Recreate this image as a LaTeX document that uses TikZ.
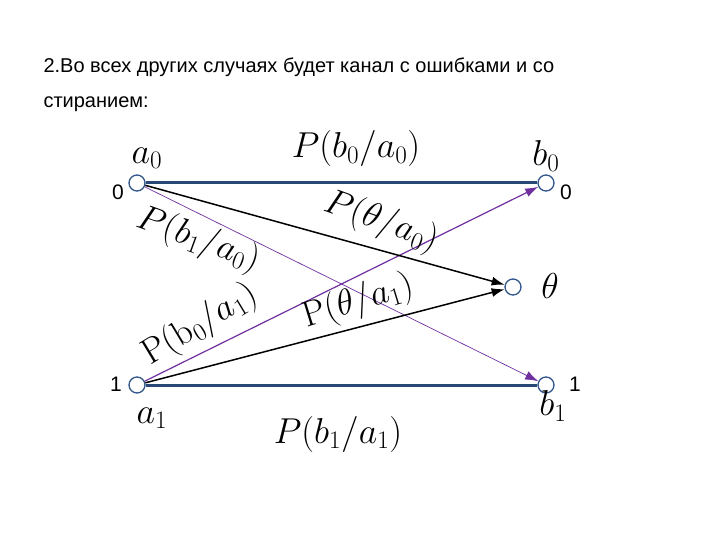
\RequirePackage{fix-cm}
\documentclass[tikz,border=0pt]{standalone}
\usepackage[no-math]{fontspec}
\setmainfont{Liberation Sans}
\usetikzlibrary{arrows.meta}
\definecolor{linkblue}{RGB}{40,72,120}
\definecolor{ringblue}{RGB}{50,85,140}
\definecolor{chanpurple}{RGB}{112,48,160}
\tikzset{
  port/.style={circle, draw=ringblue, fill=white, line width=1.3pt, minimum size=16pt, inner sep=0pt},
  lbl/.style={font=\fontsize{36}{36}\selectfont},
  idx/.style={font=\fontsize{21}{21}\selectfont},
  tip/.style={-{Latex[length=13pt,width=9pt]}}
}
\begin{document}
\begin{tikzpicture}[x=1pt, y=-1pt]
    \useasboundingbox[fill=white] (0,0) rectangle (720,540);
    % Заголовок
    \node[anchor=base west, font=\fontsize{20}{20}\selectfont] (head1) at (40,73) {2.Во всех других случаях будет канал с ошибками и со};
    \node[anchor=base west, font=\fontsize{20}{20}\selectfont] (head2) at (40,108) {стиранием:};
    % Узлы
    \node[port] (a0) at (137,183) {};
    \node[port] (b0) at (546,183) {};
    \node[port] (th) at (513,287) {};
    \node[port] (a1) at (137,385) {};
    \node[port] (b1) at (546,385) {};
    % Связи
    \draw[linkblue, line width=3pt] (a0) -- (b0);
    \draw[linkblue, line width=3pt] (a1) -- (b1);
    \draw[chanpurple, line width=0.7pt, tip] (a0) -- (b1);
    \draw[chanpurple, line width=1.2pt, tip] (a1) -- (b0);
    \draw[black, line width=1.5pt, tip] (a0) -- (th);
    \draw[black, line width=1.5pt, tip] (a1) -- (th);
    % Обозначения узлов
    \node[idx] (n0a) at (118,192) {0};
    \node[idx] (n0b) at (566,192) {0};
    \node[idx] (n1a) at (116,384) {1};
    \node[idx] (n1b) at (575,384) {1};
    \node[lbl] (la0) at (147,158) {$a_0$};
    \node[lbl] (lb0) at (546,156) {$b_0$};
    \node[lbl] (lth) at (550,286) {$\theta$};
    \node[lbl] (la1) at (152,418) {$a_1$};
    \node[lbl] (lb1) at (553,406) {$b_1$};
    % Вероятности
    \node[lbl] (p00) at (356,149) {$P(b_0/a_0)$};
    \node[lbl, rotate=-20] (pt0) at (381,222) {$P(\theta/a_0)$};
    \node[lbl, rotate=-20] (p10) at (198,240) {$P(b_1/a_0)$};
    \node[lbl, rotate=31] (p01) at (200,325) {$\mathrm{P}(\mathrm{b}_0/a_1)$};
    \node[lbl, rotate=17] (pt1) at (358,302) {$\mathrm{P}(\theta/a_1)$};
    \node[lbl] (p11) at (338,434) {$P(b_1/a_1)$};
\end{tikzpicture}
\end{document}
